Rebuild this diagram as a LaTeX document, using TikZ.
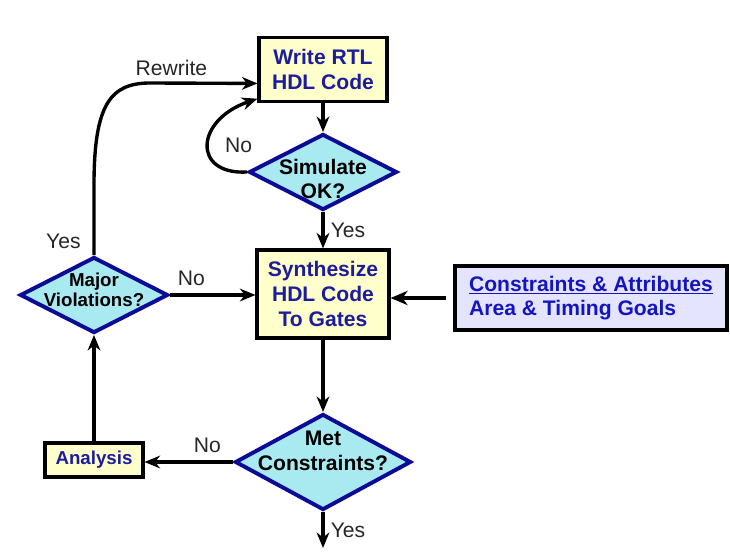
\documentclass[tikz,border=0pt]{standalone}
\usepackage{fontspec}
\setmainfont{Liberation Sans}
\usetikzlibrary{shapes.geometric,arrows.meta,positioning}

\definecolor{boxfill}{HTML}{FFFFCC}
\definecolor{decfill}{HTML}{A9E9F0}
\definecolor{decline}{HTML}{0B0B95}
\definecolor{boxtext}{HTML}{1C1C9C}
\definecolor{consfill}{HTML}{E4E4FF}
\definecolor{constext}{HTML}{1414C0}

\tikzset{
	box/.style={draw=black, line width=2.2pt, fill=boxfill, text=boxtext, align=center, inner sep=0pt,
		font=\bfseries\fontsize{15}{17.5}\selectfont},
	decision/.style={diamond, draw=decline, line width=2.8pt, fill=decfill, inner sep=0pt},
	dectext/.style={align=center, font=\bfseries\fontsize{15}{17.5}\selectfont},
	lbl/.style={font=\fontsize{15}{17}\selectfont, text=black!85}
}

\begin{document}
\begin{tikzpicture}[x=0.025cm, y=-0.025cm, >={Stealth[length=11pt, width=9pt, inset=3.5pt]}, line width=2.4pt]
%	\draw [help lines] (0,0) grid (730,552);
	\useasboundingbox (0,0) rectangle (730,552);
	\node [box, minimum width=3.2cm, minimum height=1.6cm] (write) at (323,69.5) {Write RTL\\HDL Code};
	\node [decision, minimum width=3.7cm, minimum height=1.9cm,
		label={[dectext, yshift=-5pt]center:Simulate\\OK?}] (sim) at (323,172) {};
	\node [box, minimum width=3.3cm, minimum height=2.2cm] (synth) at (323,294) {Synthesize\\HDL Code\\To Gates};
	\node [box, fill=consfill, text=constext, align=left, minimum width=6.8cm, minimum height=1.6cm] (cons) at (591,298)
		{\underline{Constraints \& Attributes}\\Area \& Timing Goals};
	\node [decision, minimum width=3.7cm, minimum height=1.9cm,
		label={[dectext, yshift=3.5pt, font=\bfseries\fontsize{13.3}{14.5}\selectfont]center:Major\\Violations?}] (major) at (94,295) {};
	\node [decision, minimum width=4.4cm, minimum height=2.4cm,
		label={[dectext, yshift=8pt]center:Met\\Constraints?}] (met) at (323,462) {};
	\node [box, minimum width=2.45cm, minimum height=0.85cm, font=\bfseries\fontsize{13.3}{15}\selectfont] (ana) at (94,460) {Analysis};
	\coordinate (done) at (323,548);

	\draw [->] (write.south) -- (sim.north);
	\draw [->] (sim.south) -- (synth.north) node [lbl, midway, right=1pt] {Yes};
	\draw [->] (sim.west) .. controls (192,175) and (195,120) .. (write.204) node [lbl, pos=0.3, above right=2pt and 4pt] {No};
	\draw [->] (major.north) -- ++(0,-70) node [lbl, pos=0.2, left=5pt] {Yes}
		.. controls +(0,-80) and +(-40,0) .. (150,83) -- (write.192) node [lbl, pos=0.2, above=1pt] {Rewrite};
	\draw [->] (major.east) -- (major.east -| synth.west) node [lbl, pos=0.25, above=2pt] {No};
	\draw [->, line width=3.4pt, shorten <=5pt, >={Stealth[length=12pt, width=10pt, inset=3.5pt]}] (cons.west) -- (cons.west -| synth.east);
	\draw [->] (synth.south) -- (met.north);
	\draw [->] (met.west) -- (met.west -| ana.east) node [lbl, pos=0.29, above=2pt] {No};
	\draw [->] (ana.north) -- (major.south);
	\draw [->] (met.south) -- (done) node [lbl, midway, right=1pt] {Yes};
\end{tikzpicture}
\end{document}
